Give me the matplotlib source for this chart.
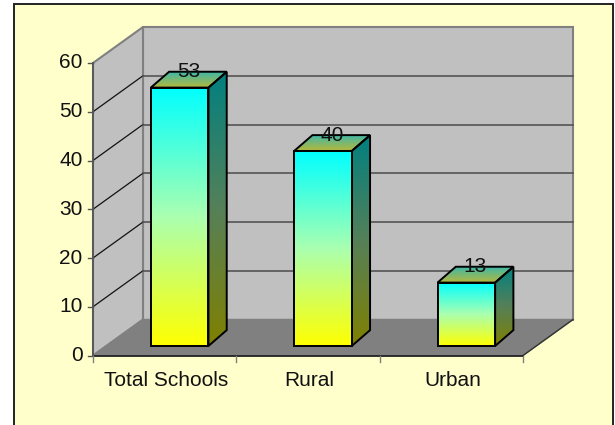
"""Rebuild the 3D-look school count bar chart."""

import matplotlib

matplotlib.use("Agg")
import matplotlib.pyplot as plt
import numpy as np
from matplotlib.colors import LinearSegmentedColormap
from matplotlib.patches import Polygon

categories = ["Total Schools", "Rural", "Urban"]
values = [53, 40, 13]
y_ticks = [0, 10, 20, 30, 40, 50, 60]

W, H = 615, 425
X0_PX, X1_PX = 93, 523
Y0_PX, Y60_PX = 355.5, 63
PX_PER_CAT = (X1_PX - X0_PX) / len(categories)
PX_PER_VAL = (Y0_PX - Y60_PX) / y_ticks[-1]
DEPTH_X_PX, DEPTH_Y_PX = 50, 36

plt.rcParams["font.family"] = ["Liberation Sans", "DejaVu Sans"]

fig = plt.figure(figsize=(W / 100, H / 100), dpi=100, facecolor="white")
ax = fig.add_axes([0, 0, 1, 1])
xlim = (-X0_PX / PX_PER_CAT, (W - X0_PX) / PX_PER_CAT)
ylim = ((Y0_PX - H) / PX_PER_VAL, Y0_PX / PX_PER_VAL)


def pt(x, y, depth=0.0, depth_y=None):
    """Category/value position pushed back by a 0-1 depth."""
    if depth_y is None:
        depth_y = depth
    return (x + depth * DEPTH_X_PX / PX_PER_CAT, y + depth_y * DEPTH_Y_PX / PX_PER_VAL)


def shaded(points, colors, zorder):
    """Fill a polygon with a vertical gradient and outline it in black."""
    pts = np.array(points)
    cmap = LinearSegmentedColormap.from_list("g", colors)
    img = ax.imshow(
        np.linspace(0, 1, 256).reshape(-1, 1),
        cmap=cmap,
        origin="lower",
        aspect="auto",
        extent=(pts[:, 0].min(), pts[:, 0].max(), pts[:, 1].min(), pts[:, 1].max()),
        zorder=zorder,
    )
    poly = Polygon(pts, closed=True, fc="none", ec="black", lw=1.4, zorder=zorder + 0.1, joinstyle="miter")
    ax.add_patch(poly)
    img.set_clip_path(poly)


n = len(categories)
top = y_ticks[-1]

# frame, open at the bottom edge of the image
ax.add_patch(plt.Rectangle((xlim[0] + 13.5 / PX_PER_CAT, ylim[0] - 5), (613 - 13.5) / PX_PER_CAT,
                           ylim[1] - ylim[0] + 5 - 3.5 / PX_PER_VAL, fc="#FFFFCC", ec="#222222", lw=1.4, zorder=0))

# walls and floor
ax.add_patch(Polygon([pt(0, 0, 1), pt(n, 0, 1), pt(n, top, 1), pt(0, top, 1)], fc="#C0C0C0", ec="#808080", lw=1.5, zorder=1))
ax.add_patch(Polygon([pt(0, 0), pt(0, 0, 1), pt(0, top, 1), pt(0, top)], fc="#C0C0C0", ec="#808080", lw=1.5, zorder=1))
ax.add_patch(Polygon([pt(0, 0), pt(n, 0), pt(n, 0, 1), pt(0, 0, 1)], fc="#808080", ec="#808080", lw=1, zorder=1.5))
ax.plot(*zip(pt(n, 0), pt(n, 0, 1)), color="#333333", lw=1, zorder=1.6)

# gridlines
for t in y_ticks[1:-1]:
    ax.plot(*zip(pt(0, t), pt(0, t, 1)), color="#111111", lw=0.9, zorder=1.6)
    ax.plot(*zip(pt(0, t, 1), pt(n, t, 1)), color="#555555", lw=1.2, zorder=1.6)

# axis lines and ticks
ax.plot(*zip(pt(0, 0), pt(n, 0)), color="#222222", lw=1.3, zorder=1.7)
ax.plot(*zip(pt(0, 0), pt(0, top)), color="#555555", lw=1.3, zorder=1.7)
tick_x = 5 / PX_PER_CAT
tick_y = 6 / PX_PER_VAL
for t in y_ticks:
    ax.plot([-tick_x, 0], [t, t], color="#555555", lw=1, zorder=1.7)
    ax.text(-10.5 / PX_PER_CAT, t, str(t), ha="right", va="center", fontsize=15, color="#111111", zorder=5)
for i in range(n + 1):
    ax.plot([i, i], [0, -tick_y], color="#808080", lw=1, zorder=1.7)

# bars
BAR_WIDTH = 0.402
BAR_FRONT_X, BAR_FRONT_Y = 0.3, 0.265
BAR_BACK_X, BAR_BACK_Y = 0.665, 0.705
for i, (name, v) in enumerate(zip(categories, values)):
    left = i + 0.5 - BAR_WIDTH / 2
    right = i + 0.5 + BAR_WIDTH / 2
    fx, fy, bx, by = BAR_FRONT_X, BAR_FRONT_Y, BAR_BACK_X, BAR_BACK_Y
    shaded([pt(right, 0, fx, fy), pt(right, 0, bx, by), pt(right, v, bx, by), pt(right, v, fx, fy)], ["#808000", "#558058", "#008080"], 3)
    shaded([pt(left, v, fx, fy), pt(right, v, fx, fy), pt(right, v, bx, by), pt(left, v, bx, by)], ["#B8B838", "#40B8A8"], 3)
    shaded([pt(left, 0, fx, fy), pt(right, 0, fx, fy), pt(right, v, fx, fy), pt(left, v, fx, fy)], ["#FFFF00", "#AAFFB0", "#00FFFF"], 3.5)
    lx, ly = pt(i + 0.5, v, bx, by)
    ax.text(lx - 9.5 / PX_PER_CAT, ly, str(v), ha="center", va="center", fontsize=15, color="#111111", zorder=6)
    ax.text(i + 0.5 + 1.5 / PX_PER_CAT, -25.5 / PX_PER_VAL, name, ha="center", va="center", fontsize=15, color="#111111", zorder=6)

ax.set_xlim(xlim)
ax.set_ylim(ylim)
ax.axis("off")
fig.savefig("out.png", dpi=100)
